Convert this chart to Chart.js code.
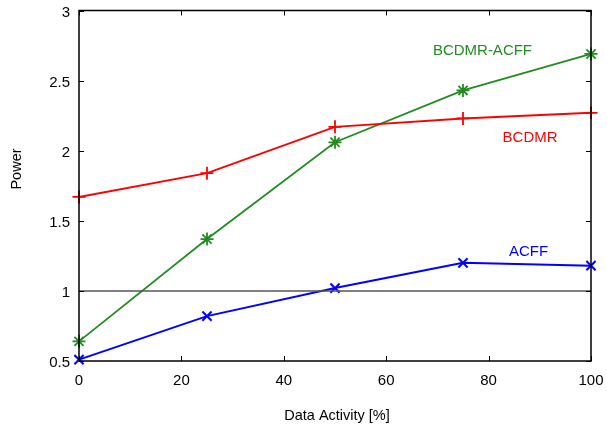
<!DOCTYPE html>
<html>
<head>
<meta charset="utf-8">
<script src="https://cdn.jsdelivr.net/npm/chart.js@4/dist/chart.umd.min.js"></script>
<style>
html,body{margin:0;padding:0;background:#fff;}
#wrap{width:607px;height:431px;position:relative;}
</style>
</head>
<body>
<div id="wrap"><canvas id="c" width="607" height="431"></canvas></div>
<script>
const xValues = [0, 25, 50, 75, 100];
const bcdmr = [1.67, 1.84, 2.17, 2.23, 2.27];
const bcdmrAcff = [0.64, 1.37, 2.06, 2.43, 2.69];
const acff = [0.51, 0.82, 1.02, 1.20, 1.18];
const refLine = [1, 1];
const refX = [0, 100];
const xTicks = [0, 20, 40, 60, 80, 100];
const yTicks = [0.5, 1, 1.5, 2, 2.5, 3];
const seriesLabels = [
  {text: 'BCDMR-ACFF', x: 78.8, y: 2.71, color: '#228b22'},
  {text: 'BCDMR', x: 88.1, y: 2.09, color: '#ff0000'},
  {text: 'ACFF', x: 87.8, y: 1.28, color: '#0000ff'}
];
const FONT = '"Liberation Sans", Arial, Helvetica, sans-serif';

const pts = (xs, ys) => xs.map((x, i) => ({x: x, y: ys[i]}));

const decor = {
  id: 'decor',
  afterDatasetsDraw(chart) {
    const {ctx, chartArea: a, scales: {x, y}} = chart;
    ctx.save();
    ctx.strokeStyle = '#000';
    ctx.lineWidth = 1.5;
    ctx.strokeRect(a.left, a.top, a.right - a.left, a.bottom - a.top);
    ctx.lineWidth = 1;
    const L = 5;
    xTicks.forEach(v => {
      const px = Math.round(x.getPixelForValue(v)) + 0.5;
      ctx.beginPath();
      ctx.moveTo(px, a.bottom); ctx.lineTo(px, a.bottom - L);
      ctx.moveTo(px, a.top); ctx.lineTo(px, a.top + L);
      ctx.stroke();
    });
    yTicks.forEach(v => {
      const py = Math.round(y.getPixelForValue(v)) + 0.5;
      ctx.beginPath();
      ctx.moveTo(a.left, py); ctx.lineTo(a.left + L, py);
      ctx.moveTo(a.right, py); ctx.lineTo(a.right - L, py);
      ctx.stroke();
    });
    ctx.font = '15px ' + FONT;
    ctx.textAlign = 'center';
    ctx.textBaseline = 'middle';
    seriesLabels.forEach(l => {
      ctx.fillStyle = l.color;
      ctx.fillText(l.text, x.getPixelForValue(l.x), y.getPixelForValue(l.y));
    });
    ctx.fillStyle = '#000';
    ctx.font = '14.5px ' + FONT;
    ctx.fillText('Data Activity [%]', (a.left + a.right) / 2 + 2, 416);
    ctx.translate(17, 169);
    ctx.rotate(-Math.PI / 2);
    ctx.fillText('Power', 0, 0);
    ctx.restore();
  }
};

new Chart(document.getElementById('c'), {
  type: 'line',
  data: {
    datasets: [
      {label: 'ref', data: pts(refX, refLine), borderColor: '#555555', borderWidth: 1.5, pointRadius: 0, clip: false},
      {label: 'BCDMR', data: pts(xValues, bcdmr), borderColor: '#ff0000', backgroundColor: '#ff0000', borderWidth: 2,
        pointStyle: 'cross', pointRadius: 6.5, pointBorderWidth: 1.8, clip: false},
      {label: 'BCDMR-ACFF', data: pts(xValues, bcdmrAcff), borderColor: '#228b22', backgroundColor: '#228b22', borderWidth: 1.8,
        pointStyle: 'star', pointRadius: 6.5, pointBorderWidth: 1.8, clip: false},
      {label: 'ACFF', data: pts(xValues, acff), borderColor: '#0000ff', backgroundColor: '#0000ff', borderWidth: 2,
        pointStyle: 'crossRot', pointRadius: 6.5, pointBorderWidth: 2, clip: false}
    ]
  },
  options: {
    responsive: false,
    animation: false,
    events: [],
    layout: {padding: {left: 0, top: 10.5, right: 16, bottom: 0}},
    plugins: {legend: {display: false}, tooltip: {enabled: false}},
    elements: {line: {tension: 0}},
    scales: {
      x: {
        type: 'linear', min: 0, max: 100,
        grid: {display: false, drawTicks: false},
        border: {display: false},
        afterBuildTicks: s => { s.ticks = xTicks.map(v => ({value: v})); },
        afterFit: s => { s.height = 70; s.paddingLeft = 0; s.paddingRight = 0; },
        ticks: {color: '#000', font: {family: FONT, size: 15}, padding: 11, maxRotation: 0,
          callback: v => String(v)}
      },
      y: {
        type: 'linear', min: 0.5, max: 3,
        grid: {display: false, drawTicks: false},
        border: {display: false},
        afterBuildTicks: s => { s.ticks = yTicks.map(v => ({value: v})); },
        afterFit: s => { s.width = 79; s.paddingTop = 0; s.paddingBottom = 0; },
        ticks: {color: '#000', font: {family: FONT, size: 15}, padding: 9, labelOffset: 2,
          callback: v => String(v)}
      }
    }
  },
  plugins: [decor]
});
</script>
</body>
</html>
